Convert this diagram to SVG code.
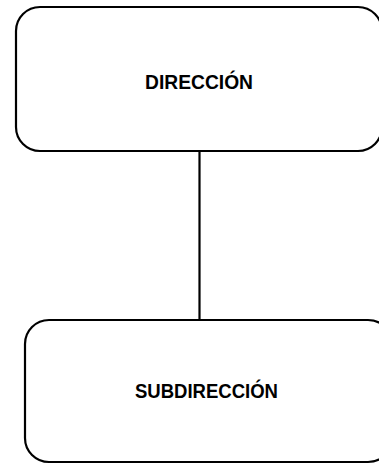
<svg xmlns="http://www.w3.org/2000/svg" width="379" height="464" viewBox="0 0 379 464">
<style>
.box{fill:#fff;stroke:#000;stroke-width:2.2}
.lbl{font-family:"Liberation Sans",Arial,sans-serif;font-weight:bold;font-size:21px;fill:#000}
.conn{stroke:#000;stroke-width:2.2;fill:none}
</style>
<rect width="379" height="464" fill="#fff"/>
<g id="connectors">
<line class="conn" x1="199.5" y1="151" x2="199.5" y2="320"/>
</g>
<g id="direccion">
<rect class="box" x="16" y="7" width="366" height="144" rx="24" ry="24"/>
<text class="lbl" x="145" y="89" textLength="108" lengthAdjust="spacingAndGlyphs">DIRECCIÓN</text>
</g>
<g id="subdireccion">
<rect class="box" x="25" y="320" width="367" height="142" rx="24" ry="24"/>
<text class="lbl" x="135" y="398" textLength="143" lengthAdjust="spacingAndGlyphs">SUBDIRECCIÓN</text>
</g>
</svg>
